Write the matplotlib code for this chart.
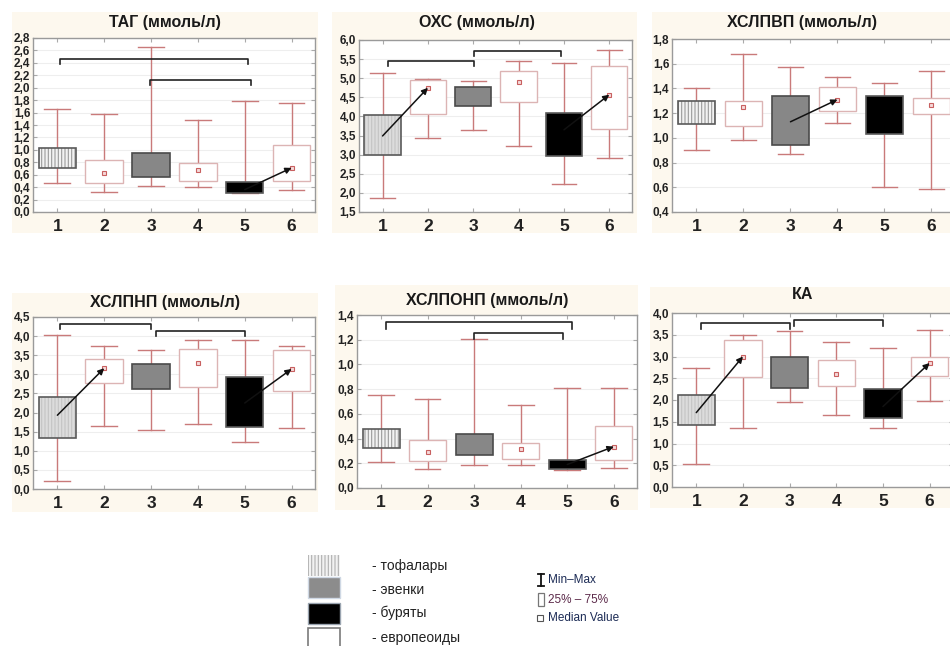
import matplotlib
matplotlib.use("Agg")
import matplotlib.pyplot as plt
from matplotlib.patches import Rectangle, PathPatch
from matplotlib.lines import Line2D
from matplotlib.ticker import FuncFormatter

plt.rcParams['font.family'] = ['Liberation Sans', 'DejaVu Sans']
plt.rcParams['hatch.linewidth'] = 0.8

W, H = 950, 646

# ---- data: group 1..6 box statistics for each lipid parameter ----
GROUPS = ['1', '2', '3', '4', '5', '6']

TAG_MIN = [0.46, 0.32, 0.42, 0.41, 0.30, 0.35]
TAG_Q1 = [0.71, 0.46, 0.57, 0.50, 0.31, 0.50]
TAG_MED = [0.86, 0.62, 0.75, 0.67, 0.36, 0.71]
TAG_Q3 = [1.03, 0.83, 0.95, 0.79, 0.48, 1.08]
TAG_MAX = [1.65, 1.57, 2.65, 1.48, 1.78, 1.76]

OXC_MIN = [1.87, 3.43, 3.64, 3.22, 2.24, 2.90]
OXC_Q1 = [3.00, 4.07, 4.28, 4.39, 2.97, 3.68]
OXC_MED = [3.49, 4.75, 4.55, 4.89, 3.65, 4.57]
OXC_Q3 = [4.03, 4.96, 4.76, 5.20, 4.10, 5.33]
OXC_MAX = [5.14, 4.98, 4.94, 5.44, 5.41, 5.75]

HDL_MIN = [0.905, 0.985, 0.87, 1.12, 0.60, 0.59]
HDL_Q1 = [1.11, 1.10, 0.94, 1.22, 1.03, 1.19]
HDL_MED = [1.20, 1.25, 1.13, 1.31, 1.20, 1.265]
HDL_Q3 = [1.295, 1.295, 1.34, 1.41, 1.34, 1.325]
HDL_MAX = [1.40, 1.68, 1.57, 1.495, 1.44, 1.54]

LDL_MIN = [0.21, 1.64, 1.55, 1.71, 1.23, 1.59]
LDL_Q1 = [1.33, 2.77, 2.62, 2.67, 1.63, 2.57]
LDL_MED = [1.93, 3.16, 2.95, 3.29, 2.25, 3.14]
LDL_Q3 = [2.40, 3.40, 3.27, 3.66, 2.92, 3.63]
LDL_MAX = [4.02, 3.73, 3.63, 3.91, 3.91, 3.75]

VLDL_MIN = [0.21, 0.15, 0.19, 0.19, 0.145, 0.165]
VLDL_Q1 = [0.325, 0.215, 0.265, 0.235, 0.155, 0.23]
VLDL_MED = [0.40, 0.29, 0.33, 0.315, 0.19, 0.335]
VLDL_Q3 = [0.475, 0.385, 0.44, 0.365, 0.225, 0.50]
VLDL_MAX = [0.755, 0.72, 1.205, 0.675, 0.81, 0.807]

KA_MIN = [0.52, 1.35, 1.95, 1.66, 1.35, 1.98]
KA_Q1 = [1.43, 2.53, 2.28, 2.33, 1.58, 2.56]
KA_MED = [1.71, 3.00, 2.62, 2.60, 1.85, 2.85]
KA_Q3 = [2.11, 3.37, 2.99, 2.91, 2.26, 3.00]
KA_MAX = [2.73, 3.49, 3.58, 3.33, 3.20, 3.62]

TITLES = ['ТАГ (ммоль/л)', 'ОХС (ммоль/л)', 'ХСЛПВП (ммоль/л)',
          'ХСЛПНП (ммоль/л)', 'ХСЛПОНП (ммоль/л)', 'КА']

# significant differences: arrows between group medians, brackets between groups
ARROWS = [[(5, 6)], [(1, 2), (5, 6)], [(3, 4)], [(1, 2), (5, 6)], [(5, 6)], [(1, 2), (5, 6)]]
BRACKETS = [
    [(1.05, 5.07, 2.47), (2.98, 5.14, 2.13)],
    [(1.11, 3.01, 5.45), (3.02, 4.93, 5.72)],
    [],
    [(1.05, 3.0, 4.31), (3.1, 5.0, 4.13)],
    [(1.1, 5.1, 1.34), (3.0, 4.9, 1.258)],
    [(1.1, 3.0, 3.77), (3.1, 5.0, 3.83)],
]

LEGEND_LABELS = ['- тофалары', '- эвенки', '- буряты', '- европеоиды']

PANELS = [
    (TAG_MIN, TAG_Q1, TAG_MED, TAG_Q3, TAG_MAX),
    (OXC_MIN, OXC_Q1, OXC_MED, OXC_Q3, OXC_MAX),
    (HDL_MIN, HDL_Q1, HDL_MED, HDL_Q3, HDL_MAX),
    (LDL_MIN, LDL_Q1, LDL_MED, LDL_Q3, LDL_MAX),
    (VLDL_MIN, VLDL_Q1, VLDL_MED, VLDL_Q3, VLDL_MAX),
    (KA_MIN, KA_Q1, KA_MED, KA_Q3, KA_MAX),
]

# ---- layout (pixels from top-left) ----
YLIM = [(0, 2.8, 0.2), (1.5, 6.0, 0.5), (0.4, 1.8, 0.2),
        (0, 4.5, 0.5), (0, 1.4, 0.2), (0, 4.0, 0.5)]
AX_BOX = [(33, 38, 315, 212), (359, 40, 632, 212), (672, 39, 955, 212),
          (33, 317, 315, 489), (357, 315, 637, 488), (672, 313, 953, 487)]
BG_BOX = [(12, 12, 318, 233), (332, 12, 637, 233), (652, 12, 950, 233),
          (12, 293, 318, 512), (335, 285, 638, 510), (650, 287, 950, 508)]
TITLE_POS = [(165, 23), (477, 22), (802, 22), (165, 303), (487, 300), (803, 295)]
BRACKET_DROP = [0.09, 0.13, 0.05, 0.13, 0.05, 0.13]

BEIGE = '#fdf8ee'
WHISK = '#c97a7a'
FILL1_LIGHT = ('#f2f2f2', '#9a9a9a')
FILL1_GRAY = ('#dcdcdc', '#c4c4c4')
FILL = {2: '#ffffff', 3: '#878787', 4: '#ffffff', 5: '#000000', 6: '#ffffff'}
EDGE = {2: '#dcb4b4', 3: '#4a4a4a', 4: '#dcb4b4', 5: '#5a5a5a', 6: '#dcb4b4'}


def fx(px):
    return px / W


def fy(py):
    return 1 - py / H


fig = plt.figure(figsize=(W / 100, H / 100), dpi=100)
fig.patch.set_facecolor('white')

comma = FuncFormatter(lambda v, p: f'{v:.1f}'.replace('.', ','))

for k in range(6):
    lo, q1, med, q3, hi = PANELS[k]
    bx = BG_BOX[k]
    fig.patches.append(Rectangle((fx(bx[0]), fy(bx[3])), fx(bx[2] - bx[0]), (bx[3] - bx[1]) / H,
                                 transform=fig.transFigure, facecolor=BEIGE, edgecolor='none',
                                 zorder=-10))
    a = AX_BOX[k]
    ax = fig.add_axes([fx(a[0]), fy(a[3]), fx(a[2] - a[0]), (a[3] - a[1]) / H])
    ax.set_zorder(1)
    ax.set_facecolor('white')
    fig.text(fx(TITLE_POS[k][0]), fy(TITLE_POS[k][1]), TITLES[k], ha='center', va='center',
             fontsize=11.5, fontweight='bold', color='#1a1a1a')

    stats = [dict(med=med[i], q1=q1[i], q3=q3[i], whislo=lo[i], whishi=hi[i], label=GROUPS[i])
             for i in range(6)]
    art = ax.bxp(stats, positions=range(1, 7), widths=0.8, capwidths=0.55,
                 patch_artist=True, showfliers=False,
                 whiskerprops=dict(color=WHISK, lw=1.0, zorder=2),
                 capprops=dict(color=WHISK, lw=1.0, zorder=2),
                 medianprops=dict(visible=False),
                 boxprops=dict(lw=1.0, zorder=3))
    for i, box in enumerate(art['boxes']):
        g = i + 1
        if g == 1:
            fc, hc = FILL1_LIGHT if k in (0, 2, 4) else FILL1_GRAY
            box.set_facecolor(fc)
            box.set_edgecolor(hc)
            box.set_hatch('|||||')
            box.set_linewidth(0)
            ax.add_patch(PathPatch(box.get_path(), transform=ax.transData, fill=False,
                                   edgecolor='#5a5a5a', lw=1.2, zorder=3.1))
        else:
            box.set_facecolor(FILL[g])
            box.set_edgecolor(EDGE[g])
            box.set_linewidth(1.2 if g in (3, 5) else 1.0)

    # median markers on the open boxes
    open_pos = [2, 4, 6]
    ax.plot(open_pos, [med[p - 1] for p in open_pos], ls='none', marker='s', ms=3.4,
            mfc='#f6dada', mec='#c86060', mew=0.8, zorder=4)

    for (s, e) in ARROWS[k]:
        ax.annotate('', xy=(e, med[e - 1]), xytext=(s, med[s - 1]),
                    arrowprops=dict(arrowstyle='-|>', color='#111111', lw=1.1,
                                    mutation_scale=9, shrinkA=0, shrinkB=0), zorder=5)

    d = BRACKET_DROP[k]
    for (x0, x1, y) in BRACKETS[k]:
        ax.plot([x0, x0, x1, x1], [y - d, y, y, y - d], color='#222222', lw=1.2, zorder=5)

    y0, y1, st = YLIM[k]
    ax.set_ylim(y0, y1)
    n = int(round((y1 - y0) / st))
    ticks = [y0 + st * j for j in range(n + 1)]
    ax.set_yticks(ticks)
    ax.yaxis.set_major_formatter(comma)
    ax.set_xlim(0.48, 6.5)
    ax.set_xticks(range(1, 7))
    ax.set_xticklabels(GROUPS)
    ax.grid(axis='y', color='#eeeeee', lw=0.8, zorder=0)
    ax.set_axisbelow(True)
    ax.tick_params(direction='in', length=3, color='#aaaaaa', top=True, right=True)
    ax.tick_params(axis='y', labelsize=8.5, pad=2, labelcolor='#222222')
    ax.tick_params(axis='x', labelsize=12.5, pad=5, labelcolor='#222222')
    for lab in ax.get_xticklabels() + ax.get_yticklabels():
        lab.set_fontweight('bold')
    for sp in ax.spines.values():
        sp.set_color('#9a9a9a')
        sp.set_linewidth(1.0)

# ---- legend: group swatches ----
sw_x0, sw_x1 = 308, 340
sw_rows = [(555, 576), (577, 598), (603, 624), (628, 652)]
text_y = [566, 590, 613, 638]
for j in range(4):
    t, b = sw_rows[j]
    rect_kw = dict(transform=fig.transFigure, zorder=3)
    if j == 0:
        r = Rectangle((fx(sw_x0), fy(b)), fx(sw_x1 - sw_x0), (b - t) / H,
                      facecolor='#f2f2f2', edgecolor='#b0b0b0', hatch='|||||', lw=0, **rect_kw)
    elif j == 1:
        r = Rectangle((fx(sw_x0), fy(b)), fx(sw_x1 - sw_x0), (b - t) / H,
                      facecolor='#8c8c8c', edgecolor='#cfd8e4', lw=1.0, **rect_kw)
    elif j == 2:
        r = Rectangle((fx(sw_x0), fy(b)), fx(sw_x1 - sw_x0), (b - t) / H,
                      facecolor='#000000', edgecolor='#9aa4b0', lw=1.0, **rect_kw)
    else:
        r = Rectangle((fx(sw_x0), fy(b)), fx(sw_x1 - sw_x0), (b - t) / H,
                      facecolor='white', edgecolor='#7a7a7a', lw=1.2, **rect_kw)
    fig.patches.append(r)
    fig.text(fx(372), fy(text_y[j]), LEGEND_LABELS[j], ha='left', va='center',
             fontsize=10, color='#222222')

# ---- legend: box-plot key ----
for seg in [((541, 541), (574, 586)), ((538, 544), (574, 574)), ((538, 544), (586, 586))]:
    fig.add_artist(Line2D([fx(v) for v in seg[0]], [fy(v) for v in seg[1]],
                          transform=fig.transFigure, color='#111111', lw=1.3))
fig.text(fx(548), fy(580), 'Min–Max', ha='left', va='center', fontsize=8.5, color='#1c2b55')
fig.patches.append(Rectangle((fx(538), fy(606)), fx(6), 13 / H, transform=fig.transFigure,
                             facecolor='white', edgecolor='#777777', lw=0.9))
fig.text(fx(548), fy(600), '25% – 75%', ha='left', va='center', fontsize=8.5, color='#5c2a4a')
fig.patches.append(Rectangle((fx(537), fy(621)), fx(6), 6 / H, transform=fig.transFigure,
                             facecolor='white', edgecolor='#555555', lw=0.8))
fig.text(fx(548), fy(618), 'Median Value', ha='left', va='center', fontsize=8.5, color='#1c2b55')

fig.savefig('out.png', dpi=100, facecolor='white')
